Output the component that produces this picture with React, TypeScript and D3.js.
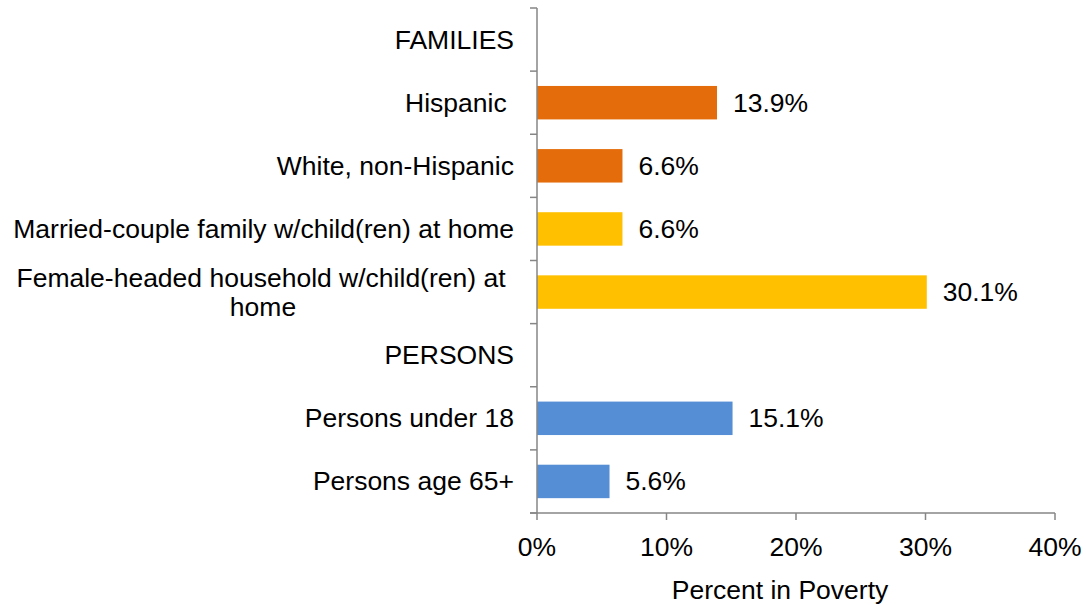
import React from "react";
import * as d3 from "d3";

const categories = [
  "FAMILIES",
  "Hispanic ",
  "White, non-Hispanic",
  "Married-couple family w/child(ren) at home",
  "Female-headed household w/child(ren) at home",
  "PERSONS",
  "Persons under 18",
  "Persons age 65+",
];
const values: (number | null)[] = [null, 13.9, 6.6, 6.6, 30.1, null, 15.1, 5.6];
const groups = ["none", "race", "race", "type", "type", "none", "person", "person"];
const groupColors: Record<string, string> = {
  none: "none",
  race: "#E46C0A",
  type: "#FFC000",
  person: "#558ED5",
};
const xTicks = [0, 10, 20, 30, 40];
const xTitle = "Percent in Poverty";

const W = 1086;
const H = 605;
const FONT = "'Liberation Sans', Arial, sans-serif";
const AXIS = "#868686";

export default function App() {
  const x = d3.scaleLinear().domain([0, 40]).range([537, 1055]);
  const y = d3
    .scaleBand<string>()
    .domain(categories)
    .range([8, 513])
    .paddingInner(0.47)
    .paddingOuter(0.235);
  const step = y.step();
  const boundaries = d3.range(categories.length + 1).map((i) => 8 + i * step);
  const labelX = x(0) - 23;
  const fs = 26.5;

  return (
    <svg
      width={W}
      height={H}
      style={{ position: "absolute", left: 0, top: 0, display: "block", background: "#fff" }}
      fontFamily={FONT}
    >
      {/* bars */}
      {categories.map((c, i) =>
        values[i] == null ? null : (
          <rect
            key={c}
            x={x(0)}
            y={y(c)!}
            width={x(values[i] as number) - x(0)}
            height={y.bandwidth()}
            fill={groupColors[groups[i]]}
          />
        )
      )}
      {/* y axis */}
      <line x1={x(0)} x2={x(0)} y1={8} y2={513} stroke={AXIS} strokeWidth={1.5} />
      {boundaries.map((b, i) => (
        <line key={i} x1={x(0) - 7} x2={x(0)} y1={b} y2={b} stroke={AXIS} strokeWidth={1.5} />
      ))}
      {/* x axis */}
      <line x1={x(0) - 7} x2={x(40)} y1={513} y2={513} stroke={AXIS} strokeWidth={1.5} />
      {xTicks.map((t) => (
        <g key={t}>
          <line x1={x(t)} x2={x(t)} y1={513} y2={520} stroke={AXIS} strokeWidth={1.5} />
          <text x={x(t)} y={547} textAnchor="middle" dominantBaseline="central" fontSize={fs} fill="#000">
            {t}%
          </text>
        </g>
      ))}
      <text x={x(20) - 16} y={590} textAnchor="middle" dominantBaseline="central" fontSize={fs} fill="#000">
        {xTitle}
      </text>
      {/* category labels */}
      {categories.map((c, i) => {
        const cy = y(c)! + y.bandwidth() / 2;
        if (c.length > 42) {
          const words = c.split(" ");
          const l1 = words.slice(0, -1).join(" ");
          const l2 = words[words.length - 1];
          return (
            <text key={c} x={261} textAnchor="middle" fontSize={fs} fill="#000" dominantBaseline="central">
              <tspan x={261} y={cy - 14.5}>{l1}</tspan>
              <tspan x={263} y={cy + 14.5}>{l2}</tspan>
            </text>
          );
        }
        return (
          <text
            key={c}
            x={labelX}
            y={cy}
            textAnchor="end"
            dominantBaseline="central"
            fontSize={fs}
            fill="#000"
            style={{ whiteSpace: "pre" }}
          >
            {c}
          </text>
        );
      })}
      {/* value labels */}
      {categories.map((c, i) =>
        values[i] == null ? null : (
          <text
            key={"v" + c}
            x={x(values[i] as number) + 16}
            y={y(c)! + y.bandwidth() / 2}
            dominantBaseline="central"
            fontSize={fs}
            fill="#000"
          >
            {(values[i] as number).toFixed(1)}%
          </text>
        )
      )}
    </svg>
  );
}
